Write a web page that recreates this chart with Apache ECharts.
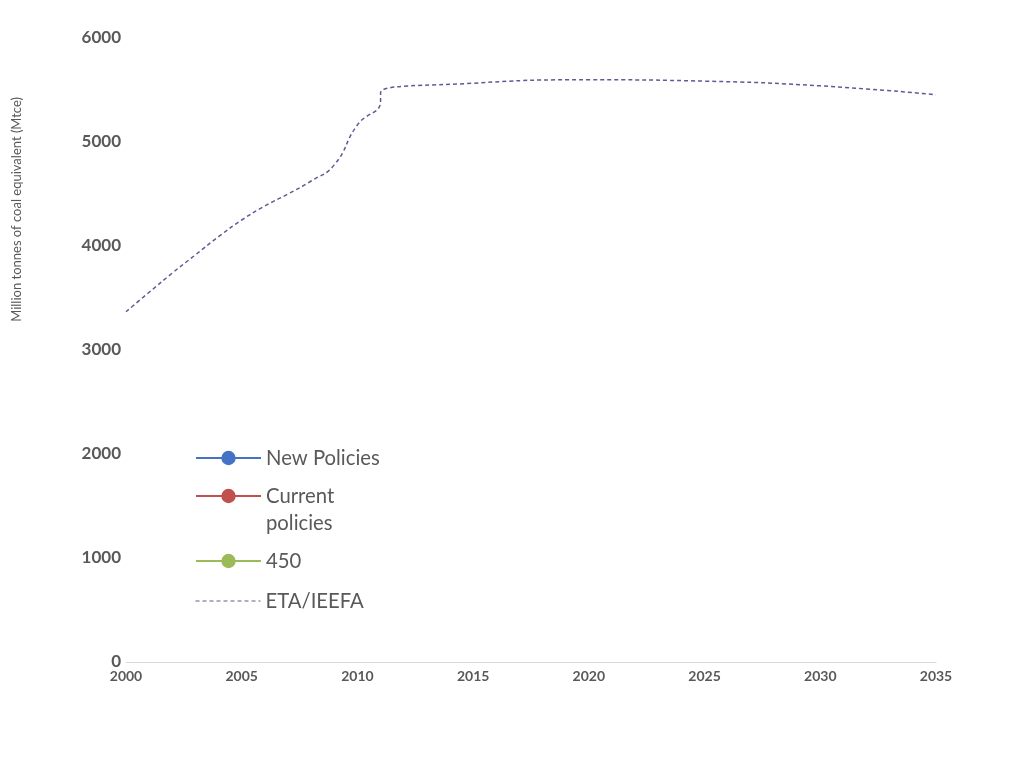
<!DOCTYPE html>
<html>
<head>
<meta charset="utf-8">
<script src="https://cdn.jsdelivr.net/npm/echarts@6/dist/echarts.min.js"></script>
<style>
  html, body { margin: 0; padding: 0; background: #fff; }
  #chart { width: 1024px; height: 768px; }
</style>
</head>
<body>
<div id="chart"></div>
<script>
// historical coal demand, then projection (ETA/IEEFA), Mtce
const histYears = [2000, 2001, 2002, 2003, 2004, 2005, 2006, 2007, 2008, 2009, 2010, 2011];
const histValues = [3368, 3555, 3740, 3915, 4090, 4250, 4385, 4500, 4625, 4780, 5165, 5390];
const projYears = [2011, 2015, 2020, 2025, 2030, 2035];
const projValues = [5475, 5565, 5598, 5585, 5540, 5455];

const yearTicks = { min: 2000, max: 2035, step: 5 };
const valueTicks = { min: 0, max: 6000, step: 1000 };

const axisTitle = 'Million tonnes of coal equivalent (Mtce)';
const seriesNames = ['New Policies', 'Current policies', '450', 'ETA/IEEFA'];
const legendLabels = ['New Policies', ' \nCurrent\npolicies', '450', 'ETA/IEEFA'];
const seriesColors = ['#4472C4', '#C0504D', '#9BBB59', '#5C5C94'];

const textColor = '#595959';
const font = 'Lato, "Open Sans", sans-serif';

const etaData = [];
histYears.forEach(function (y, i) { etaData.push([y, histValues[i]]); });
projYears.forEach(function (y, i) { etaData.push([y, projValues[i]]); });

const chart = echarts.init(document.getElementById('chart'));

function scenarioSeries(i) {
  return {
    name: seriesNames[i],
    type: 'line',
    data: [],
    symbol: 'circle',
    color: seriesColors[i],
    itemStyle: { color: seriesColors[i] },
    lineStyle: { color: seriesColors[i], width: 1.5 }
  };
}

// one legend per entry so the wrapped label lines up like the original
const legendTops = [439.5, 450.5, 542.5, 582.5];
const legends = seriesNames.map(function (name, i) {
  const lg = {
    data: [name],
    orient: 'vertical',
    left: 190,
    top: legendTops[i],
    itemWidth: 65,
    itemHeight: 18,
    selectedMode: false,
    formatter: function () { return legendLabels[i]; },
    textStyle: {
      color: textColor,
      fontFamily: font,
      fontSize: 20.3,
      lineHeight: 27
    }
  };
  if (i === 3) {
    lg.itemStyle = { opacity: 0 };
    lg.lineStyle = { width: 1 };
  }
  return lg;
});

const option = {
  animation: false,
  backgroundColor: '#fff',
  textStyle: { fontFamily: font },
  grid: { left: 126, right: 88, top: 38, bottom: 106, containLabel: false },
  legend: legends,
  graphic: [{
    type: 'text',
    left: 10,
    top: 97,
    rotation: Math.PI / 2,
    style: {
      text: axisTitle,
      fill: textColor,
      fontFamily: font,
      fontSize: 13
    }
  }],
  xAxis: {
    type: 'value',
    min: yearTicks.min,
    max: yearTicks.max,
    interval: yearTicks.step,
    axisLine: { show: true, lineStyle: { color: '#d9d9d9', width: 1 } },
    axisTick: { show: false },
    splitLine: { show: false },
    axisLabel: {
      color: textColor,
      fontFamily: font,
      fontWeight: 'bold',
      fontSize: 14,
      margin: 7,
      formatter: function (v) { return String(v); }
    }
  },
  yAxis: {
    type: 'value',
    min: valueTicks.min,
    max: valueTicks.max,
    interval: valueTicks.step,
    axisLine: { show: false },
    axisTick: { show: false },
    splitLine: { show: false },
    axisLabel: {
      color: textColor,
      fontFamily: font,
      fontWeight: 'bold',
      fontSize: 17,
      margin: 5,
      formatter: function (v) { return String(v); }
    }
  },
  series: [
    scenarioSeries(0),
    scenarioSeries(1),
    scenarioSeries(2),
    {
      name: seriesNames[3],
      type: 'line',
      data: etaData,
      smooth: true,
      symbol: 'none',
      color: seriesColors[3],
      lineStyle: { color: seriesColors[3], width: 1.5, type: [4, 3] }
    }
  ]
};

chart.setOption(option);
</script>
</body>
</html>
